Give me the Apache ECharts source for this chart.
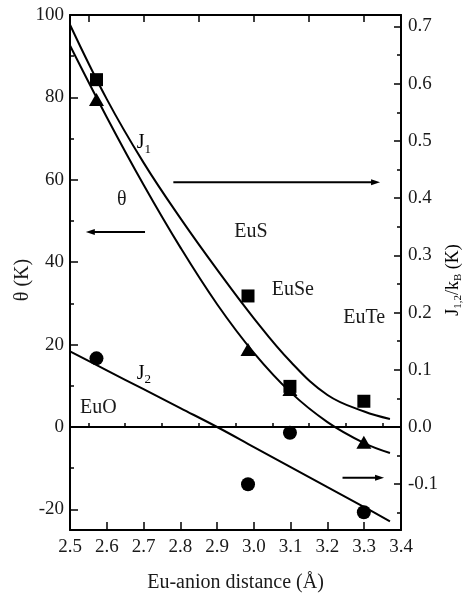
<!DOCTYPE html>
<html>
<head>
<meta charset="utf-8">
<script src="https://cdn.jsdelivr.net/npm/echarts@6/dist/echarts.min.js"></script>
<style>
  html, body { margin: 0; padding: 0; background: #fff; }
  #chart { width: 465px; height: 599px; }
</style>
</head>
<body>
<div id="chart"></div>
<script>
// Eu–anion distances of EuO, EuS, EuSe, EuTe (Å)
const distance = [2.572, 2.984, 3.098, 3.299];
// Paramagnetic Curie temperature θ (K), left axis
const thetaPts = [79.5, 18.8, 9.1, -3.7];
// Exchange constants J1/kB and J2/kB (K), right axis
const j1Pts = [0.607, 0.229, 0.071, 0.045];
const j2Pts = [0.120, -0.100, -0.010, -0.149];

// Fitted curves, sampled along the distance axis
const fitX = [2.5, 2.6, 2.7, 2.8, 2.9, 3.0, 3.1, 3.2, 3.3, 3.37];
const thetaFit = [92.6, 75.2, 58.8, 43.6, 29.8, 18.0, 8.4, 1.2, -3.9, -6.3];
const j1Fit = [0.703, 0.573, 0.462, 0.365, 0.275, 0.190, 0.114, 0.056, 0.027, 0.014];
const j2Fit = [0.132, 0.099, 0.066, 0.033, 0.0, -0.035, -0.070, -0.105, -0.140, -0.165];

// Tick values
const xMajor = [2.5, 2.6, 2.7, 2.8, 2.9, 3.0, 3.1, 3.2, 3.3, 3.4];
const xMinor = [2.55, 2.65, 2.75, 2.85, 2.95, 3.05, 3.15, 3.25, 3.35];
const xTop = [2.55, 2.7, 2.85, 3.0, 3.15, 3.3];
const thetaMajor = [-20, 0, 20, 40, 60, 80, 100];
const thetaMinor = [-10, 10, 30, 50, 70, 90];
const jMajor = [-0.1, 0.0, 0.1, 0.2, 0.3, 0.4, 0.5, 0.6, 0.7];
const jMinor = [-0.15, -0.05, 0.05, 0.15, 0.25, 0.35, 0.45, 0.55, 0.65];

const INK = '#000';
const TEXT = '#1a1a1a';
const FONT = '"Liberation Serif", "Times New Roman", serif';
const zip = (xs, ys) => xs.map((x, i) => [x, ys[i]]);

const chart = echarts.init(document.getElementById('chart'), null, { renderer: 'canvas' });

const baseAxis = {
  type: 'value',
  splitLine: { show: false },
  axisLine: { show: true, onZero: false, lineStyle: { color: INK, width: 2 } },
  axisTick: { show: true, inside: true, lineStyle: { color: INK, width: 1.5 } },
  axisLabel: { show: false }
};

chart.setOption({
  animation: false,
  backgroundColor: '#fff',
  grid: { left: 70, right: 64, top: 15, bottom: 69, containLabel: false },
  xAxis: [
    Object.assign({}, baseAxis, {
      position: 'bottom', min: 2.5, max: 3.4,
      axisTick: { show: true, inside: true, length: 8, customValues: xMajor, lineStyle: { color: INK, width: 1.5 } },
      axisLabel: { show: true, customValues: xMajor, margin: 8, fontSize: 19, fontFamily: FONT, color: TEXT,
        formatter: v => v.toFixed(1) },
      name: 'Eu-anion distance (Å)', nameLocation: 'middle', nameGap: 43,
      nameTextStyle: { fontSize: 20, fontFamily: FONT, color: TEXT }
    }),
    Object.assign({}, baseAxis, {
      position: 'bottom', min: 2.5, max: 3.4,
      axisLine: { show: false },
      axisTick: { show: true, inside: true, length: 4, customValues: xMinor, lineStyle: { color: INK, width: 1.5 } }
    }),
    Object.assign({}, baseAxis, {
      position: 'top', min: 2.5, max: 3.4,
      axisTick: { show: true, inside: true, length: 7, customValues: xTop, lineStyle: { color: INK, width: 1.5 } }
    })
  ],
  yAxis: [
    Object.assign({}, baseAxis, {
      position: 'left', min: -25, max: 100,
      axisTick: { show: true, inside: true, length: 8, customValues: thetaMajor, lineStyle: { color: INK, width: 1.5 } },
      axisLabel: { show: true, customValues: thetaMajor, margin: 6, fontSize: 19, fontFamily: FONT, color: TEXT }
    }),
    Object.assign({}, baseAxis, {
      position: 'left', min: -25, max: 100,
      axisLine: { show: false },
      axisTick: { show: true, inside: true, length: 4, customValues: thetaMinor, lineStyle: { color: INK, width: 1.5 } }
    }),
    Object.assign({}, baseAxis, {
      position: 'right', min: -0.18, max: 0.72,
      axisTick: { show: true, inside: true, length: 7, customValues: jMajor, lineStyle: { color: INK, width: 1.5 } },
      axisLabel: { show: true, customValues: jMajor, margin: 7, fontSize: 19, fontFamily: FONT, color: TEXT,
        formatter: v => v.toFixed(1) }
    }),
    Object.assign({}, baseAxis, {
      position: 'right', min: -0.18, max: 0.72,
      axisLine: { show: false },
      axisTick: { show: true, inside: true, length: 4, customValues: jMinor, lineStyle: { color: INK, width: 1.5 } }
    })
  ],
  series: [
    {
      name: 'θ fit', type: 'line', xAxisIndex: 0, yAxisIndex: 0,
      data: zip(fitX, thetaFit), smooth: 0.4, showSymbol: false,
      lineStyle: { color: INK, width: 2 },
      markLine: {
        silent: true, symbol: ['none', 'none'], label: { show: false },
        lineStyle: { color: INK, width: 2, type: 'solid' },
        data: [[{ coord: [2.5, 0] }, { coord: [3.4, 0] }]]
      }
    },
    {
      name: 'J1 fit', type: 'line', xAxisIndex: 0, yAxisIndex: 2,
      data: zip(fitX, j1Fit), smooth: 0.4, showSymbol: false,
      lineStyle: { color: INK, width: 2 }
    },
    {
      name: 'J2 fit', type: 'line', xAxisIndex: 0, yAxisIndex: 2,
      data: zip(fitX, j2Fit), smooth: 0.4, showSymbol: false,
      lineStyle: { color: INK, width: 2 }
    },
    {
      name: 'θ', type: 'scatter', xAxisIndex: 0, yAxisIndex: 0,
      data: zip(distance, thetaPts), symbol: 'triangle', symbolSize: [15, 13],
      itemStyle: { color: INK, opacity: 1 }
    },
    {
      name: 'J1', type: 'scatter', xAxisIndex: 0, yAxisIndex: 2,
      data: zip(distance, j1Pts), symbol: 'rect', symbolSize: 13,
      itemStyle: { color: INK, opacity: 1 }
    },
    {
      name: 'J2', type: 'scatter', xAxisIndex: 0, yAxisIndex: 2,
      data: zip(distance, j2Pts), symbol: 'circle', symbolSize: 14,
      itemStyle: { color: INK, opacity: 1 }
    }
  ]
});

// Annotations anchored in (distance, θ) coordinates
const toPx = p => chart.convertToPixel({ xAxisIndex: 0, yAxisIndex: 0 }, p);

const arrows = [
  { from: [2.704, 47.3], to: [2.543, 47.3] },   // θ -> left axis
  { from: [2.781, 59.4], to: [3.343, 59.4] },   // J1 -> right axis
  { from: [3.241, -12.3], to: [3.354, -12.3] }  // J2 -> right axis
];

const labelStyle = { font: '20px ' + FONT, fill: TEXT };
const subRich = {
  m: { fontSize: 20, fontFamily: FONT, color: TEXT, lineHeight: 26 },
  s: { fontSize: 13, fontFamily: FONT, color: TEXT, lineHeight: 13, verticalAlign: 'bottom' }
};
const titleRich = {
  m: { fontSize: 18, fontFamily: FONT, color: TEXT, lineHeight: 22 },
  s: { fontSize: 11, fontFamily: FONT, color: TEXT, lineHeight: 11, verticalAlign: 'bottom' }
};

const labels = [
  { at: [2.701, 69.0], text: '{m|J}{s|1}', rich: true },
  { at: [2.641, 55.2], text: 'θ' },
  { at: [2.992, 47.5], text: 'EuS' },
  { at: [3.106, 33.4], text: 'EuSe' },
  { at: [3.300, 26.5], text: 'EuTe' },
  { at: [2.701, 13.0], text: '{m|J}{s|2}', rich: true },
  { at: [2.577, 4.7], text: 'EuO' }
];

const graphics = [];
arrows.forEach(a => {
  const p0 = toPx(a.from), p1 = toPx(a.to);
  const dir = Math.sign(p1[0] - p0[0]);
  const headLen = 9, headHalf = 3;
  graphics.push({
    type: 'line', silent: true,
    shape: { x1: p0[0], y1: p0[1], x2: p1[0] - dir * headLen * 0.6, y2: p1[1] },
    style: { stroke: INK, lineWidth: 2 }
  });
  graphics.push({
    type: 'polygon', silent: true,
    shape: { points: [[p1[0], p1[1]], [p1[0] - dir * headLen, p1[1] - headHalf], [p1[0] - dir * headLen, p1[1] + headHalf]] },
    style: { fill: INK }
  });
});

labels.forEach(l => {
  const p = toPx(l.at);
  const style = l.rich
    ? { text: l.text, rich: subRich, x: p[0], y: p[1], align: 'center', verticalAlign: 'middle' }
    : Object.assign({ text: l.text, x: p[0], y: p[1], align: 'center', verticalAlign: 'middle' }, labelStyle);
  graphics.push({ type: 'text', silent: true, style: style });
});

// Axis titles for the two vertical axes
graphics.push({
  type: 'text', silent: true, x: 23, y: 280, rotation: Math.PI / 2,
  style: { text: 'θ (K)', font: '20px ' + FONT, fill: TEXT, align: 'center', verticalAlign: 'middle' }
});
graphics.push({
  type: 'text', silent: true, x: 453, y: 280, rotation: Math.PI / 2,
  style: {
    text: '{m|J}{s|1,2}{m|/k}{s|B}{m| (K)}', rich: titleRich,
    align: 'center', verticalAlign: 'middle'
  }
});

chart.setOption({ graphic: graphics });
</script>
</body>
</html>
